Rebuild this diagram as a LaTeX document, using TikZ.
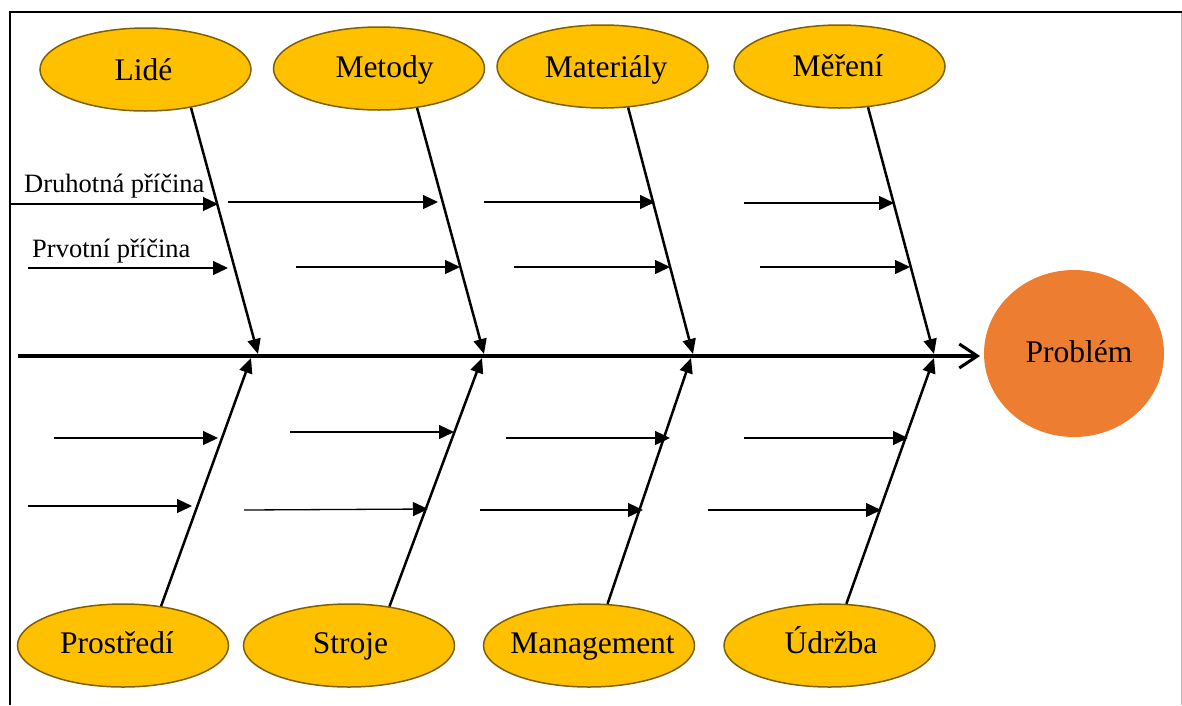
\documentclass[tikz,border=0pt]{standalone}
\usepackage{fontspec}
\setmainfont{Liberation Serif}
\usetikzlibrary{arrows.meta,shapes.geometric}
\definecolor{causefill}{HTML}{FFC000}
\definecolor{causeline}{HTML}{7F6000}
\definecolor{probfill}{HTML}{ED7D31}
\begin{document}
\begin{tikzpicture}[x=1pt,y=-1pt,
  cause/.style={ellipse, draw=causeline, line width=1.5pt, fill=causefill,
    minimum width=211pt, minimum height=83pt, inner sep=0pt},
  ctext/.style={anchor=base, inner sep=0pt, font=\fontsize{31.5}{36}\selectfont},
  problem/.style={ellipse, fill=probfill, minimum width=180pt, minimum height=167pt,
    inner sep=0pt},
  bone/.style={line width=2.5pt, -{Triangle[length=15pt,width=13pt]}},
  sub/.style={line width=1.3pt, -{Triangle[length=15pt,width=14pt]}},
  spine/.style={line width=4pt, -{Straight Barb[length=18pt,width=24pt,line width=3pt]}},
  lbl/.style={font=\fontsize{26.5}{30}\selectfont, anchor=base west, inner sep=0pt}
]
\useasboundingbox (0,0) rectangle (1182,705);
% frame
\draw[line width=2pt] (10,705) -- (10,12) -- (1182,12);
\draw[black!25, line width=1pt] (1181,13) -- (1181,705);

% cause ellipses
\node[cause] (lide)  at (145.5,69.5) {};
\node[cause] (metody) at (379,68.5) {};
\node[cause] (mat)   at (602.5,66.5) {};
\node[cause] (mer)   at (839.5,66.5) {};
\node[cause] (pros)  at (123,645.5) {};
\node[cause] (stroje) at (349,645.5) {};
\node[cause] (man)   at (589,645.5) {};
\node[cause] (udr)   at (829.5,645.5) {};

\node[ctext] (lideT)   at (143.5,80) {Lidé};
\node[ctext] (metodyT) at (384.5,77) {Metody};
\node[ctext] (matT)    at (606,77) {Materiály};
\node[ctext] (merT)    at (838,76) {Měření};
\node[ctext] (prosT)   at (117,653) {Prostředí};
\node[ctext] (strojeT) at (350.5,653) {Stroje};
\node[ctext] (manT)    at (592.5,653) {Management};
\node[ctext] (udrT)    at (831,653) {Údržba};

% problem
\node[problem] (prob) at (1074,353.5) {};
\node[ctext] (probT) at (1079,362) {Problém};

% spine
\coordinate (tail) at (18,356);
\coordinate (head) at (980,356);
\draw[spine] (tail) -- (head);

% bone junctions
\coordinate (j1t) at (258,354);
\coordinate (j2t) at (484,354);
\coordinate (j3t) at (693,354);
\coordinate (j4t) at (934,354);
\coordinate (j1b) at (251,358);
\coordinate (j2b) at (482,358);
\coordinate (j3b) at (691,358);
\coordinate (j4b) at (934,358);

\draw[bone] (lide.-40) -- (j1t);
\draw[bone] (metody.-46) -- (j2t);
\draw[bone] (mat.-58) -- (j3t);
\draw[bone] (mer.-55) -- (j4t);
\draw[bone] (pros.46) -- (j1b);
\draw[bone] (stroje.44) -- (j2b);
\draw[bone] (man.66) -- (j3b);
\draw[bone] (udr.68) -- (j4b);

% sub-causes
\foreach \n/\xa/\ya/\xb/\yb in {
  1/11/204/218/204, 2/228/202/438/202, 3/484/202/655/202, 4/744/203/894/203,
  5/28/268/228/268, 6/296/267/460/267, 7/514/267/670/267, 8/760/267/910/267,
  9/54/438/218/438, 10/290/432/454/432, 11/506/438/670/438, 12/744/438/908/438,
  13/28/506/192/506, 14/244/510/428/509, 15/480/510/643/510, 16/708/510/881/510}
{
  \coordinate (s\n) at (\xa,\ya);
  \coordinate (e\n) at (\xb,\yb);
  \draw[sub] (s\n) -- (e\n);
}

% labels
\node[lbl] (l1) at (24,192) {Druhotná příčina};
\node[lbl] (l2) at (32,257) {Prvotní příčina};
\end{tikzpicture}
\end{document}
